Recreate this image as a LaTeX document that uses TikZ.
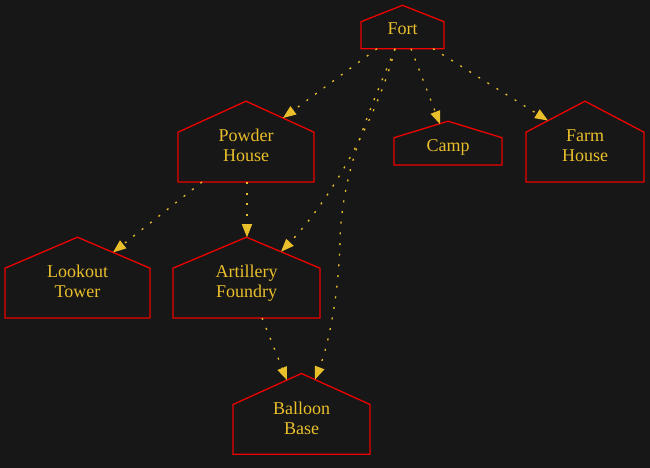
\documentclass[tikz,border=0pt]{standalone}
\usepackage{fontspec}
\setmainfont{Liberation Serif}
\usetikzlibrary{arrows.meta}
\definecolor{bg}{HTML}{171717}
\definecolor{housered}{HTML}{EE0000}
\definecolor{gold}{HTML}{EABF2C}
\newcommand\lstrut{\rule[-4pt]{0pt}{20pt}}
\tikzset{
  lbl/.style={text=gold, font=\fontsize{18}{20}\selectfont, align=center, inner sep=0pt},
  houseline/.style={draw=housered, line width=1.3pt, line join=miter},
  edgeline/.style={draw=gold, line width=1.3pt, dash pattern=on 2pt off 8.7pt,
    -{Triangle[length=13pt,width=10pt]}},
}
% node, half width, top, shoulder, bottom (offsets from the node centre)
\newcommand\houseoutline[5]{%
  \draw[houseline] ([shift={(-#2,#5)}]#1.center) -- ([shift={(#2,#5)}]#1.center)
    -- ([shift={(#2,#4)}]#1.center) -- ([shift={(0,#3)}]#1.center)
    -- ([shift={(-#2,#4)}]#1.center) -- cycle;}
\begin{document}
\begin{tikzpicture}[x=1pt,y=-1pt]
\fill[bg] (0,0) rectangle (650,468);
\useasboundingbox (0,0) rectangle (650,468);

\node[lbl] (fort) at (402.5,28.3) {\lstrut Fort};
\node[lbl] (powder) at (246,145.7) {\lstrut Powder\\\lstrut House};
\node[lbl] (camp) at (448,145.7) {\lstrut Camp};
\node[lbl] (farm) at (585,145.7) {\lstrut Farm\\\lstrut House};
\node[lbl] (lookout) at (77.5,281.7) {\lstrut Lookout\\\lstrut Tower};
\node[lbl] (artillery) at (246.5,281.7) {\lstrut Artillery\\\lstrut Foundry};
\node[lbl] (balloon) at (301.5,418) {\lstrut Balloon\\\lstrut Base};

\houseoutline{fort}{41.5}{-23}{-6.6}{20.4}
\houseoutline{powder}{68}{-44.5}{-13.5}{36.3}
\houseoutline{camp}{54}{-24.5}{-8}{19.3}
\houseoutline{farm}{59}{-44.5}{-13.5}{36.3}
\houseoutline{lookout}{72.5}{-44.5}{-13.5}{36.3}
\houseoutline{artillery}{73.5}{-44.5}{-13.5}{36.3}
\houseoutline{balloon}{68.5}{-44.5}{-13.5}{36.3}

\draw[edgeline] ([shift={(-25.5,20.4)}]fort.center) -- ([shift={(37,-27.7)}]powder.center);
\draw[edgeline] ([shift={(8.5,20.4)}]fort.center) -- ([shift={(-8,-21.6)}]camp.center);
\draw[edgeline] ([shift={(30.5,20.4)}]fort.center) -- ([shift={(-37,-25.1)}]farm.center);
\draw[edgeline] ([shift={(-7.5,20.4)}]fort.center) .. controls (380,110) and (335,195) .. ([shift={(34.5,-29.95)}]artillery.center);
\draw[edgeline] ([shift={(-7.5,20.4)}]fort.center) .. controls (370,110) and (342,170) .. (340,240)
  .. controls (339,290) and (330,340) .. ([shift={(13.5,-38.4)}]balloon.center);
\draw[edgeline] ([shift={(-44,36.3)}]powder.center) -- ([shift={(35.5,-29.3)}]lookout.center);
\draw[edgeline] ([shift={(1,36.3)}]powder.center) -- ([shift={(0.5,-44.5)}]artillery.center);
\draw[edgeline] ([shift={(15.5,36.3)}]artillery.center) -- ([shift={(-14.5,-37.9)}]balloon.center);
\end{tikzpicture}
\end{document}
